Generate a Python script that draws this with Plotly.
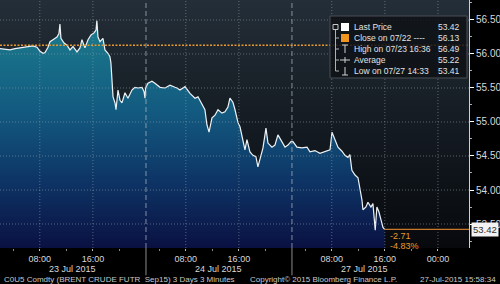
import plotly.graph_objects as go

# ---------------- data ----------------
DAY_LABELS = ["23 Jul 2015", "24 Jul 2015", "27 Jul 2015"]
SESSION_OPEN = 2.0      # session opens 02:00 (00:00-02:00 not shown)
SESSION_LEN = 22.0      # hours per session

day1_times = ["02:00","02:45","03:30","04:16","05:01","06:04","06:58","07:34","08:02","08:29",
              "08:47","09:14","09:32","09:59","10:35","10:53","11:02","11:11","11:39","12:06",
              "12:33","13:00","13:36","14:03","14:21","14:48","15:16","15:43","16:10","16:28",
              "16:36","16:46","17:04","17:31","17:49","18:16","18:34","18:43","18:52","19:02",
              "19:20","19:29","19:47","20:05","20:23","20:50","21:17","21:35","21:53","22:20",
              "22:48","23:24","23:42","23:51","23:57"]
day1_prices = [56.08,56.07,56.06,56.08,56.09,56.11,56.12,56.10,56.04,56.01,
               56.02,56.10,56.18,56.21,56.25,56.30,56.44,56.23,56.16,56.13,
               56.06,56.11,56.03,56.09,56.21,56.09,56.21,56.28,56.31,56.35,
               56.49,56.25,56.18,56.23,56.06,56.01,55.96,55.87,55.60,55.37,
               55.28,55.18,55.47,55.32,55.28,55.43,55.35,55.42,55.47,55.51,
               55.50,55.51,55.45,55.35,55.50]

day2_times = ["02:18","02:54","03:21","04:07","04:52","05:37","06:22","06:40","07:07","07:25",
              "07:53","08:38","09:23","09:50","10:26","10:53","11:11","11:30","11:57","12:24",
              "12:51","13:27","13:54","14:21","14:39","15:06","15:25","15:52","16:10","16:37",
              "16:55","17:13","17:40","18:07","18:34","18:52","19:20","19:38","20:05","20:23",
              "20:59","21:26","21:53","22:29","22:57","23:24","23:51"]
day2_prices = [55.57,55.60,55.57,55.51,55.50,55.54,55.51,55.50,55.47,55.49,
               55.52,55.42,55.35,55.37,55.25,55.18,54.96,54.85,55.06,55.10,
               55.18,55.13,55.15,55.22,55.35,55.29,55.18,54.99,54.93,54.69,
               54.59,54.74,54.56,54.51,54.49,54.34,54.54,54.62,54.91,54.69,
               54.63,54.66,54.81,54.71,54.63,54.66,54.71]

day3_times = ["02:09","02:45","03:30","04:16","04:43","05:28","06:13","06:58","07:44","08:02",
              "08:29","08:56","09:32","09:59","10:26","10:44","11:02","11:30","11:57","12:15",
              "12:33","12:42","13:09","13:27","13:54","14:12","14:33","14:48","15:06","15:25",
              "15:43","15:58"]
day3_prices = [54.71,54.63,54.62,54.63,54.56,54.58,54.54,54.56,54.59,54.85,
               54.74,54.63,54.57,54.51,54.48,54.52,54.29,54.22,54.18,54.04,
               53.85,53.71,53.75,53.82,53.75,53.80,53.41,53.75,53.68,53.56,
               53.45,53.42]

CLOSE_PREV = 56.13
LAST_PRICE = 53.42
HIGH_PRICE = 56.49
AVG_PRICE = 55.22
LOW_PRICE = 53.41
CHANGE = "-2.71"
CHANGE_PCT = "-4.83%"
legend_labels = ["Last Price", "Close on 07/22 ----", "High on 07/23 16:36", "Average", "Low on 07/27 14:33"]
legend_values = [LAST_PRICE, CLOSE_PREV, HIGH_PRICE, AVG_PRICE, LOW_PRICE]

Y_TICKS = [53.5, 54.0, 54.5, 55.0, 55.5, 56.0, 56.5]
X_TICK_HOURS = [8, 16]
X_MINOR_HOURS = [4, 12, 20]
FOOT_LEFT = "C0U5 Comdty (BRENT CRUDE FUTR  Sep15) 3 Days 3 Minutes"
FOOT_MID = "Copyright\u00a9 2015 Bloomberg Finance L.P."
FOOT_RIGHT = "27-Jul-2015 15:58:34"

# ---------------- helpers ----------------
def tpos(day, hhmm):
    h, m = hhmm.split(":")
    return day * SESSION_LEN + (int(h) + int(m) / 60.0 - SESSION_OPEN)

xs, ys = [], []
for d, (tt, pp) in enumerate([(day1_times, day1_prices), (day2_times, day2_prices), (day3_times, day3_prices)]):
    xs += [tpos(d, t) for t in tt]
    ys += pp

NDAYS = len(DAY_LABELS)
XMAX = NDAYS * SESSION_LEN + 4.68
YMIN, YMAX = 53.147, 56.794

tickvals, ticktext = [], []
for d in range(NDAYS):
    for h in X_TICK_HOURS:
        tickvals.append(d * SESSION_LEN + h - SESSION_OPEN)
        ticktext.append("%02d:00" % h)
tickvals.append(NDAYS * SESSION_LEN)
ticktext.append("00:00")
minorvals = [d * SESSION_LEN + h - SESSION_OPEN for d in range(NDAYS) for h in X_MINOR_HOURS]

W, H = 500, 284
ML, MR, MT, MB = 0, 31, 0, 36
PW, PH = W - ML - MR, H - MT - MB
def PX(p): return p / PW
def PY(p): return 1 - p / PH

FONT = "Liberation Sans, Arial, sans-serif"

fig = go.Figure()

# background gradient of plot area
fig.add_trace(go.Scatter(
    x=[0, XMAX, XMAX, 0, 0], y=[YMIN, YMIN, YMAX, YMAX, YMIN],
    mode="none", fill="toself", hoverinfo="skip", showlegend=False,
    fillgradient=dict(type="vertical", start=YMIN, stop=YMAX,
                      colorscale=[[0, "#07090d"], [0.5, "#141b22"], [1, "#242e38"]]),
))

# price area
fig.add_trace(go.Scatter(
    x=xs, y=ys, mode="lines", line=dict(color="#eef2f4", width=1.2),
    fill="tozeroy", hoverinfo="skip", showlegend=False,
    fillgradient=dict(type="vertical", start=YMIN, stop=56.5,
                      colorscale=[[0, "#0a1142"], [0.3, "#0d3566"], [0.6, "#135a80"], [1, "#1b7d8e"]]),
))

shapes = []
GRID = "rgba(150,160,170,0.55)"
for v in Y_TICKS:
    shapes.append(dict(type="line", xref="paper", yref="y", x0=0, x1=1, y0=v, y1=v,
                       line=dict(color=GRID, width=1, dash="1px,2px"), layer="above"))
for v in tickvals:
    shapes.append(dict(type="line", xref="x", yref="paper", x0=v, x1=v, y0=0, y1=1,
                       line=dict(color=GRID, width=1, dash="1px,2px"), layer="above"))
for d in range(1, NDAYS):
    sx = d * SESSION_LEN
    shapes.append(dict(type="line", xref="x", yref="paper", x0=sx, x1=sx, y0=0, y1=1,
                       line=dict(color="rgba(170,180,190,0.75)", width=1, dash="5px,3px"), layer="above"))
    shapes.append(dict(type="line", xref="x", yref="paper", x0=sx, x1=sx, y0=0, y1=-0.11,
                       line=dict(color="#8a8a8a", width=1), layer="above"))
# previous close
shapes.append(dict(type="line", xref="paper", yref="y", x0=0, x1=1, y0=CLOSE_PREV, y1=CLOSE_PREV,
                   line=dict(color="#e89a2a", width=1.5, dash="2px,1.5px"), layer="above"))
# last price line
shapes.append(dict(type="line", xref="x", yref="y", x0=xs[-1], x1=XMAX, y0=LAST_PRICE, y1=LAST_PRICE,
                   line=dict(color="#c8782a", width=1.3), layer="above"))

# legend box
shapes.append(dict(type="rect", xref="paper", yref="paper", x0=PX(330), x1=PX(467), y0=PY(78), y1=PY(16),
                   fillcolor="rgba(14,18,22,0.85)", line=dict(color="#4a4f55", width=1), layer="above"))
row_y = [27, 38, 49, 60, 71]
# tree connector
shapes.append(dict(type="rect", xref="paper", yref="paper", x0=PX(333), x1=PX(338), y0=PY(29.5), y1=PY(24.5),
                   line=dict(color="#c8c8c8", width=1), layer="above"))
shapes.append(dict(type="line", xref="paper", yref="paper", x0=PX(335.5), x1=PX(335.5), y0=PY(30), y1=PY(71),
                   line=dict(color="#b0b0b0", width=1), layer="above"))
for ry in row_y[1:]:
    shapes.append(dict(type="line", xref="paper", yref="paper", x0=PX(335.5), x1=PX(339), y0=PY(ry), y1=PY(ry),
                       line=dict(color="#b0b0b0", width=1), layer="above"))
shapes.append(dict(type="rect", xref="paper", yref="paper", x0=PX(341), x1=PX(349), y0=PY(31), y1=PY(23),
                   fillcolor="#ffffff", line=dict(width=0), layer="above"))
shapes.append(dict(type="rect", xref="paper", yref="paper", x0=PX(341), x1=PX(349), y0=PY(42), y1=PY(34),
                   fillcolor="#f0961e", line=dict(width=0), layer="above"))
shapes.append(dict(type="line", xref="paper", yref="paper", x0=PX(340), x1=PX(350), y0=PY(60), y1=PY(60),
                   line=dict(color="#d0d0d0", width=1), layer="above"))
shapes.append(dict(type="line", xref="paper", yref="paper", x0=PX(345), x1=PX(345), y0=PY(57), y1=PY(63),
                   line=dict(color="#d0d0d0", width=1), layer="above"))
# high / low glyphs
for ry, up in [(49, True), (71, False)]:
    shapes.append(dict(type="line", xref="paper", yref="paper", x0=PX(345), x1=PX(345), y0=PY(ry - 4), y1=PY(ry + 4),
                       line=dict(color="#d0d0d0", width=1), layer="above"))
    yy = ry - 4 if up else ry + 4
    shapes.append(dict(type="line", xref="paper", yref="paper", x0=PX(342), x1=PX(348), y0=PY(yy), y1=PY(yy),
                       line=dict(color="#d0d0d0", width=1), layer="above"))

annotations = []
for lbl, val, ry in zip(legend_labels, legend_values, row_y):
    annotations.append(dict(xref="paper", yref="paper", x=PX(352), y=PY(ry), text=lbl, showarrow=False,
                            xanchor="left", yanchor="middle", font=dict(color="#e2e2e2", size=8.5, family=FONT)))
    annotations.append(dict(xref="paper", yref="paper", x=PX(462), y=PY(ry), text="%.2f" % val, showarrow=False,
                            xanchor="right", yanchor="middle", font=dict(color="#e2e2e2", size=8.5, family=FONT)))

# day labels
for d, lab in enumerate(DAY_LABELS):
    annotations.append(dict(xref="x", yref="paper", x=d * SESSION_LEN + SESSION_LEN / 2, y=PY(269), text=lab,
                            showarrow=False, xanchor="center", yanchor="middle",
                            font=dict(color="#d8d8d8", size=9, family=FONT)))
# change labels
annotations.append(dict(xref="x", yref="y", x=xs[-1], y=LAST_PRICE, text=CHANGE, showarrow=False,
                        xanchor="left", yanchor="middle", xshift=3, yshift=-7,
                        font=dict(color="#e89a2a", size=9, family=FONT)))
annotations.append(dict(xref="x", yref="y", x=xs[-1], y=LAST_PRICE, text=CHANGE_PCT, showarrow=False,
                        xanchor="left", yanchor="middle", xshift=3, yshift=-17,
                        font=dict(color="#e89a2a", size=9, family=FONT)))
# last price tag
annotations.append(dict(xref="paper", yref="y", x=1, y=LAST_PRICE, text="%.2f" % LAST_PRICE, showarrow=False,
                        xanchor="left", yanchor="middle", xshift=2, bgcolor="#f2f2f2", borderpad=1,
                        font=dict(color="#303030", size=9.5, family=FONT)))
# footer
annotations.append(dict(xref="paper", yref="paper", x=PX(2), y=PY(279.5), text=FOOT_LEFT, showarrow=False,
                        xanchor="left", yanchor="middle", font=dict(color="#c8c8c8", size=8, family=FONT)))
annotations.append(dict(xref="paper", yref="paper", x=PX(248), y=PY(279.5), text=FOOT_MID, showarrow=False,
                        xanchor="left", yanchor="middle", font=dict(color="#c8c8c8", size=8, family=FONT)))
annotations.append(dict(xref="paper", yref="paper", x=PX(498), y=PY(279.5), text=FOOT_RIGHT, showarrow=False,
                        xanchor="right", yanchor="middle", font=dict(color="#c8c8c8", size=8, family=FONT)))

fig.update_layout(
    width=W, height=H,
    margin=dict(l=ML, r=MR, t=MT, b=MB, pad=0),
    paper_bgcolor="#000000", plot_bgcolor="#000000",
    showlegend=False,
    font=dict(family=FONT, color="#d8d8d8"),
    shapes=shapes, annotations=annotations,
    xaxis=dict(range=[0, XMAX], tickmode="array", tickvals=tickvals, ticktext=ticktext,
               showgrid=False, zeroline=False, showline=False,
               ticks="outside", ticklen=2, tickcolor="#bbbbbb",
               tickfont=dict(size=9, color="#d8d8d8", family=FONT),
               minor=dict(tickmode="array", tickvals=minorvals, ticklen=2, tickcolor="#888888", ticks="outside")),
    yaxis=dict(range=[YMIN, YMAX], side="right", tickmode="array", tickvals=Y_TICKS,
               ticktext=["%.2f" % v for v in Y_TICKS],
               showgrid=False, zeroline=False, showline=True, linecolor="#cfcfcf", linewidth=1,
               ticks="outside", ticklen=4, tickcolor="#ffffff",
               tickfont=dict(size=10, color="#d8d8d8", family=FONT),
               minor=dict(dtick=0.25, tick0=53.25, ticklen=2, tickcolor="#aaaaaa", ticks="outside")),
)

fig.write_html("out.html")
